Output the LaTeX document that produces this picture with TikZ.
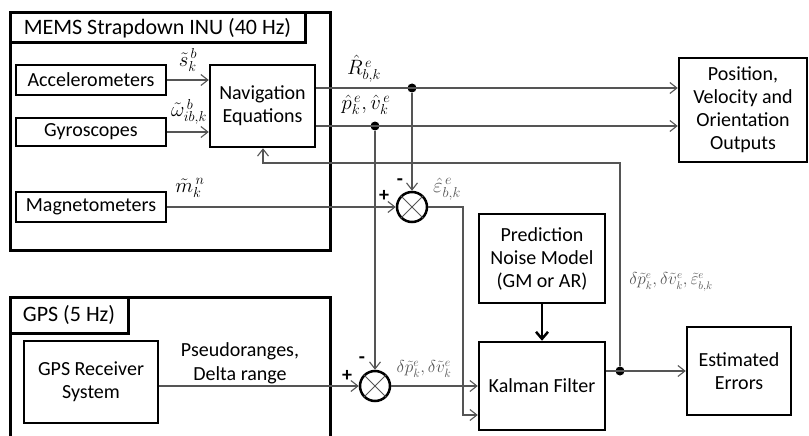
\documentclass[tikz,border=0pt]{standalone}
\usepackage{fontspec}
\setmainfont{Carlito}
\usetikzlibrary{arrows.meta}
\definecolor{conncol}{HTML}{555555}
\tikzset{
  box/.style={draw=black, line width=2.5pt, inner sep=0pt, align=center, font=\fontsize{20}{23}\selectfont},
  outer/.style={draw=black, line width=3pt, inner sep=0pt},
  conn/.style={draw=conncol, line width=1.1pt},
  arr/.style={conn, -{Straight Barb[length=7pt,width=11pt,line width=1.1pt]}},
  thickarr/.style={draw=black, line width=2.5pt, -{Straight Barb[length=7pt,width=12pt,line width=2.5pt]}},
  sumnode/.style={circle, draw=black, line width=2.5pt, minimum size=30pt, inner sep=0pt},
  dot/.style={circle, fill=black, minimum size=9pt, inner sep=0pt},
  mlabel/.style={font=\fontsize{22}{24}\selectfont, inner sep=0pt},
  slabel/.style={font=\fontsize{16}{18}\selectfont, inner sep=0pt, text=conncol},
  sign/.style={font=\fontsize{20}{22}\selectfont\bfseries, inner sep=0pt},
  plain/.style={font=\fontsize{20}{24}\selectfont, align=center, inner sep=0pt}
}
\begin{document}
\begin{tikzpicture}[x=1pt,y=-1pt]
\useasboundingbox (0,0) rectangle (809,436);
\clip (0,0) rectangle (809,436);
% outer frames
\node[outer, minimum width=320pt, minimum height=237pt] (mems) at (170,131.5) {};
\node[outer, minimum width=295pt, minimum height=30pt, font=\fontsize{22}{24}\selectfont] (memstitle) at (157.5,28) {MEMS Strapdown INU (40 Hz)};
\node[outer, minimum width=320pt, minimum height=153pt] (gps) at (170,373.5) {};
\node[outer, minimum width=118pt, minimum height=36pt, font=\fontsize{22}{24}\selectfont] (gpstitle) at (69,315) {GPS (5 Hz)};
% inner boxes
\node[box, minimum width=150pt, minimum height=30pt] (acc) at (91,80) {Accelerometers};
\node[box, minimum width=150pt, minimum height=28pt] (gyro) at (91,132) {Gyroscopes};
\node[box, minimum width=150pt, minimum height=30pt] (mag) at (91,207) {Magnetometers};
\node[box, minimum width=105pt, minimum height=82pt] (nav) at (262.5,106) {Navigation\\Equations};
\node[box, minimum width=128pt, minimum height=104pt] (pos) at (743,110) {Position,\\Velocity and\\Orientation\\Outputs};
\node[box, minimum width=126pt, minimum height=89pt] (pred) at (542,258.5) {Prediction\\Noise Model\\(GM or AR)};
\node[box, minimum width=126pt, minimum height=88pt] (kf) at (542,386) {Kalman Filter};
\node[box, minimum width=104pt, minimum height=88pt] (est) at (739,371) {Estimated\\Errors};
\node[box, minimum width=134pt, minimum height=82pt] (gpsrx) at (91,382) {GPS Receiver\\System};
% summing junctions
\node[sumnode] (sum1) at (412,207) {};
\draw[conncol, line width=0.8pt] (sum1.north east) -- (sum1.south west) (sum1.north west) -- (sum1.south east);
\node[sumnode] (sum2) at (375,386) {};
\draw[conncol, line width=0.8pt] (sum2.north east) -- (sum2.south west) (sum2.north west) -- (sum2.south east);
% junction dots
\node[dot] (d1) at (412,88) {};
\node[dot] (d2) at (375,126) {};
\node[dot] (d3) at (620,371) {};
\coordinate (c1) at (463,207);
\coordinate (fb1) at (620,163);
\coordinate (fb2) at (263,163);
% connectors
\draw[arr] (acc.east) -- (nav.west |- acc.east);
\draw[arr] (gyro.east) -- (nav.west |- gyro.east);
\draw[arr] (nav.east |- d1) -- (pos.west |- d1);
\draw[arr] (nav.east |- d2) -- (pos.west |- d2);
\draw[arr] (d1) -- (sum1.north);
\draw[arr] (d2) -- (sum2.north);
\draw[arr] (mag.east) -- (sum1.west);
\draw[arr] (sum1.east) -- (c1) |- ([yshift=-29pt]kf.west);
\draw[arr] (gpsrx.east |- sum2) -- (sum2.west);
\draw[arr] (sum2.east) -- (kf.west |- sum2);
\draw[thickarr] (pred.south) -- (kf.north);
\draw[arr] (kf.east |- d3) -- (est.west |- d3);
\draw[arr] (d3) -- (fb1) -- (fb2) -- (nav.south -| fb2);
% labels
\node[mlabel] (ls) at (188,60) {$\tilde{s}_k^{\,b}$};
\node[mlabel] (lw) at (189,112) {$\tilde{\omega}^{\,b}_{ib,k}$};
\node[mlabel] (lm) at (190,188) {$\tilde{m}^{\,n}_k$};
\node[mlabel] (lR) at (364,69) {$\hat{R}^{\,e}_{b,k}$};
\node[mlabel] (lpv) at (366,105) {$\hat{p}^{\,e}_k,\hat{v}^{\,e}_k$};
\node[mlabel, text=conncol, font=\fontsize{20}{22}\selectfont] (leps) at (447,189) {$\hat{\varepsilon}^{\,e}_{b,k}$};
\node[mlabel, text=conncol, font=\fontsize{17}{19}\selectfont] (ldpv) at (424,369) {$\delta\tilde{p}^{e}_k,\delta\tilde{v}^{e}_k$};
\node[slabel] (lall) at (671,282) {$\delta\tilde{p}^{e}_k,\delta\tilde{v}^{e}_k,\tilde{\varepsilon}^{e}_{b,k}$};
\node[plain] (lpr) at (240,363) {Pseudoranges,\\Delta range};
\node[sign] (m1) at (400,182) {-};
\node[sign] (p1) at (384,196) {+};
\node[sign] (m2) at (362,360) {-};
\node[sign] (p2) at (347,376) {+};
\end{tikzpicture}
\end{document}
